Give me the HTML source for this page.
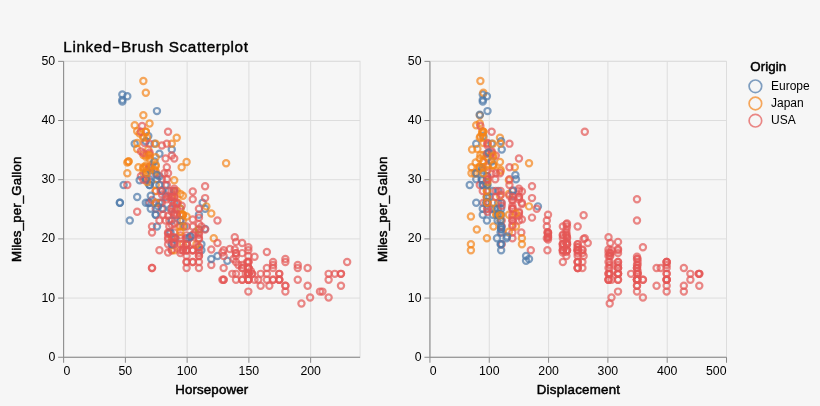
<!DOCTYPE html>
<html lang="en"><head><meta charset="utf-8"><title>Linked-Brush Scatterplot</title>
<style>
html,body{margin:0;padding:0;background:#f6f6f6;}
body{width:820px;height:406px;overflow:hidden;font-family:"Liberation Sans",Arial,Helvetica,sans-serif;}
svg{display:block;}
</style></head><body>
<svg width="820" height="406" viewBox="0 0 820 406" font-family="'Liberation Sans', Arial, Helvetica, sans-serif">
<rect width="820" height="406" fill="#f6f6f6"/>
<defs><filter id="soft" x="0" y="0" width="820" height="406" filterUnits="userSpaceOnUse"><feGaussianBlur stdDeviation="0.35"/></filter></defs>
<g filter="url(#soft)">
<g stroke="#ddd" stroke-width="1" fill="none">
<line x1="63.63" y1="61.35" x2="63.63" y2="357.25"/>
<line x1="125.38" y1="61.35" x2="125.38" y2="357.25"/>
<line x1="187.14" y1="61.35" x2="187.14" y2="357.25"/>
<line x1="248.89" y1="61.35" x2="248.89" y2="357.25"/>
<line x1="310.65" y1="61.35" x2="310.65" y2="357.25"/>
<line x1="63.63" y1="357.25" x2="360.05" y2="357.25"/>
<line x1="63.63" y1="298.07" x2="360.05" y2="298.07"/>
<line x1="63.63" y1="238.89" x2="360.05" y2="238.89"/>
<line x1="63.63" y1="179.71" x2="360.05" y2="179.71"/>
<line x1="63.63" y1="120.53" x2="360.05" y2="120.53"/>
<line x1="63.63" y1="61.35" x2="360.05" y2="61.35"/>
<rect x="63.63" y="61.35" width="296.42" height="295.9"/>
</g>
<g fill="none" stroke-width="2.2" stroke-opacity="0.7">
<circle cx="223.64" cy="250.18" r="3.12" stroke="#e45756"/>
<circle cx="266.87" cy="267.93" r="3.12" stroke="#e45756"/>
<circle cx="248.34" cy="250.18" r="3.12" stroke="#e45756"/>
<circle cx="248.34" cy="262.01" r="3.12" stroke="#e45756"/>
<circle cx="235.99" cy="256.09" r="3.12" stroke="#e45756"/>
<circle cx="307.63" cy="267.93" r="3.12" stroke="#e45756"/>
<circle cx="334.8" cy="273.85" r="3.12" stroke="#e45756"/>
<circle cx="328.62" cy="273.85" r="3.12" stroke="#e45756"/>
<circle cx="340.97" cy="273.85" r="3.12" stroke="#e45756"/>
<circle cx="297.75" cy="267.93" r="3.12" stroke="#e45756"/>
<circle cx="273.04" cy="267.93" r="3.12" stroke="#e45756"/>
<circle cx="260.69" cy="273.85" r="3.12" stroke="#e45756"/>
<circle cx="248.34" cy="267.93" r="3.12" stroke="#e45756"/>
<circle cx="340.97" cy="273.85" r="3.12" stroke="#e45756"/>
<circle cx="180.41" cy="214.67" r="3.12" stroke="#f58518"/>
<circle cx="180.41" cy="226.5" r="3.12" stroke="#e45756"/>
<circle cx="182.88" cy="250.18" r="3.12" stroke="#e45756"/>
<circle cx="168.06" cy="232.42" r="3.12" stroke="#e45756"/>
<circle cx="171.77" cy="196.91" r="3.12" stroke="#f58518"/>
<circle cx="119.89" cy="202.83" r="3.12" stroke="#4c78a8"/>
<circle cx="170.53" cy="208.75" r="3.12" stroke="#4c78a8"/>
<circle cx="174.24" cy="214.67" r="3.12" stroke="#4c78a8"/>
<circle cx="180.41" cy="208.75" r="3.12" stroke="#4c78a8"/>
<circle cx="202.64" cy="202.83" r="3.12" stroke="#4c78a8"/>
<circle cx="174.24" cy="232.42" r="3.12" stroke="#e45756"/>
<circle cx="328.62" cy="297.52" r="3.12" stroke="#e45756"/>
<circle cx="310.1" cy="297.52" r="3.12" stroke="#e45756"/>
<circle cx="322.45" cy="291.6" r="3.12" stroke="#e45756"/>
<circle cx="301.45" cy="303.44" r="3.12" stroke="#e45756"/>
<circle cx="171.77" cy="196.91" r="3.12" stroke="#f58518"/>
<circle cx="174.24" cy="191" r="3.12" stroke="#e45756"/>
<circle cx="180.41" cy="208.75" r="3.12" stroke="#f58518"/>
<circle cx="186.59" cy="244.26" r="3.12" stroke="#e45756"/>
<circle cx="192.76" cy="262.01" r="3.12" stroke="#e45756"/>
<circle cx="186.59" cy="256.09" r="3.12" stroke="#e45756"/>
<circle cx="171.77" cy="244.26" r="3.12" stroke="#e45756"/>
<circle cx="186.59" cy="250.18" r="3.12" stroke="#e45756"/>
<circle cx="266.87" cy="273.85" r="3.12" stroke="#e45756"/>
<circle cx="279.22" cy="273.85" r="3.12" stroke="#e45756"/>
<circle cx="252.05" cy="273.85" r="3.12" stroke="#e45756"/>
<circle cx="248.34" cy="273.85" r="3.12" stroke="#e45756"/>
<circle cx="285.39" cy="285.68" r="3.12" stroke="#e45756"/>
<circle cx="273.04" cy="279.77" r="3.12" stroke="#e45756"/>
<circle cx="279.22" cy="279.77" r="3.12" stroke="#e45756"/>
<circle cx="198.94" cy="250.18" r="3.12" stroke="#e45756"/>
<circle cx="152.01" cy="226.5" r="3.12" stroke="#e45756"/>
<circle cx="186.59" cy="244.26" r="3.12" stroke="#e45756"/>
<circle cx="171.77" cy="250.18" r="3.12" stroke="#e45756"/>
<circle cx="169.3" cy="220.59" r="3.12" stroke="#e45756"/>
<circle cx="174.24" cy="191" r="3.12" stroke="#4c78a8"/>
<circle cx="149.54" cy="179.16" r="3.12" stroke="#4c78a8"/>
<circle cx="156.95" cy="179.16" r="3.12" stroke="#4c78a8"/>
<circle cx="143.36" cy="173.24" r="3.12" stroke="#f58518"/>
<circle cx="148.3" cy="149.57" r="3.12" stroke="#f58518"/>
<circle cx="137.19" cy="196.91" r="3.12" stroke="#4c78a8"/>
<circle cx="149.54" cy="202.83" r="3.12" stroke="#e45756"/>
<circle cx="180.41" cy="214.67" r="3.12" stroke="#f58518"/>
<circle cx="161.89" cy="208.75" r="3.12" stroke="#e45756"/>
<circle cx="129.77" cy="220.59" r="3.12" stroke="#4c78a8"/>
<circle cx="174.24" cy="238.34" r="3.12" stroke="#e45756"/>
<circle cx="169.3" cy="232.42" r="3.12" stroke="#e45756"/>
<circle cx="266.87" cy="279.77" r="3.12" stroke="#e45756"/>
<circle cx="279.22" cy="273.85" r="3.12" stroke="#e45756"/>
<circle cx="248.34" cy="267.93" r="3.12" stroke="#e45756"/>
<circle cx="252.05" cy="273.85" r="3.12" stroke="#e45756"/>
<circle cx="248.34" cy="256.09" r="3.12" stroke="#e45756"/>
<circle cx="319.98" cy="291.6" r="3.12" stroke="#e45756"/>
<circle cx="254.52" cy="279.77" r="3.12" stroke="#e45756"/>
<circle cx="260.69" cy="285.68" r="3.12" stroke="#e45756"/>
<circle cx="297.75" cy="279.77" r="3.12" stroke="#e45756"/>
<circle cx="182.88" cy="244.26" r="3.12" stroke="#f58518"/>
<circle cx="248.34" cy="267.93" r="3.12" stroke="#e45756"/>
<circle cx="223.64" cy="279.77" r="3.12" stroke="#e45756"/>
<circle cx="235.99" cy="279.77" r="3.12" stroke="#e45756"/>
<circle cx="248.34" cy="273.85" r="3.12" stroke="#e45756"/>
<circle cx="201.41" cy="250.18" r="3.12" stroke="#4c78a8"/>
<circle cx="156.95" cy="226.5" r="3.12" stroke="#4c78a8"/>
<circle cx="170.53" cy="232.42" r="3.12" stroke="#4c78a8"/>
<circle cx="148.3" cy="202.83" r="3.12" stroke="#4c78a8"/>
<circle cx="169.3" cy="226.5" r="3.12" stroke="#e45756"/>
<circle cx="176.71" cy="191" r="3.12" stroke="#f58518"/>
<circle cx="182.88" cy="220.59" r="3.12" stroke="#f58518"/>
<circle cx="161.89" cy="191" r="3.12" stroke="#e45756"/>
<circle cx="171.77" cy="196.91" r="3.12" stroke="#f58518"/>
<circle cx="279.22" cy="279.77" r="3.12" stroke="#e45756"/>
<circle cx="248.34" cy="273.85" r="3.12" stroke="#e45756"/>
<circle cx="242.17" cy="279.77" r="3.12" stroke="#e45756"/>
<circle cx="232.29" cy="273.85" r="3.12" stroke="#e45756"/>
<circle cx="248.34" cy="267.93" r="3.12" stroke="#e45756"/>
<circle cx="307.63" cy="285.68" r="3.12" stroke="#e45756"/>
<circle cx="248.34" cy="279.77" r="3.12" stroke="#e45756"/>
<circle cx="258.22" cy="279.77" r="3.12" stroke="#e45756"/>
<circle cx="248.34" cy="273.85" r="3.12" stroke="#e45756"/>
<circle cx="328.62" cy="279.77" r="3.12" stroke="#e45756"/>
<circle cx="340.97" cy="285.68" r="3.12" stroke="#e45756"/>
<circle cx="279.22" cy="279.77" r="3.12" stroke="#e45756"/>
<circle cx="192.76" cy="250.18" r="3.12" stroke="#e45756"/>
<circle cx="186.59" cy="262.01" r="3.12" stroke="#e45756"/>
<circle cx="186.59" cy="250.18" r="3.12" stroke="#e45756"/>
<circle cx="171.77" cy="250.18" r="3.12" stroke="#e45756"/>
<circle cx="180.41" cy="220.59" r="3.12" stroke="#e45756"/>
<circle cx="119.89" cy="202.83" r="3.12" stroke="#4c78a8"/>
<circle cx="248.34" cy="291.6" r="3.12" stroke="#e45756"/>
<circle cx="269.34" cy="285.68" r="3.12" stroke="#e45756"/>
<circle cx="273.04" cy="279.77" r="3.12" stroke="#e45756"/>
<circle cx="285.39" cy="285.68" r="3.12" stroke="#e45756"/>
<circle cx="186.59" cy="250.18" r="3.12" stroke="#e45756"/>
<circle cx="171.77" cy="238.34" r="3.12" stroke="#f58518"/>
<circle cx="152.01" cy="232.42" r="3.12" stroke="#e45756"/>
<circle cx="179.18" cy="226.5" r="3.12" stroke="#f58518"/>
<circle cx="174.24" cy="250.18" r="3.12" stroke="#f58518"/>
<circle cx="168.06" cy="244.26" r="3.12" stroke="#e45756"/>
<circle cx="195.23" cy="232.42" r="3.12" stroke="#e45756"/>
<circle cx="174.24" cy="202.83" r="3.12" stroke="#4c78a8"/>
<circle cx="242.17" cy="267.93" r="3.12" stroke="#e45756"/>
<circle cx="347.15" cy="262.01" r="3.12" stroke="#e45756"/>
<circle cx="123.6" cy="185.08" r="3.12" stroke="#4c78a8"/>
<circle cx="155.71" cy="214.67" r="3.12" stroke="#4c78a8"/>
<circle cx="175.47" cy="238.34" r="3.12" stroke="#4c78a8"/>
<circle cx="201.41" cy="244.26" r="3.12" stroke="#4c78a8"/>
<circle cx="248.34" cy="267.93" r="3.12" stroke="#e45756"/>
<circle cx="198.94" cy="214.67" r="3.12" stroke="#4c78a8"/>
<circle cx="213.76" cy="238.34" r="3.12" stroke="#f58518"/>
<circle cx="285.39" cy="291.6" r="3.12" stroke="#e45756"/>
<circle cx="180.41" cy="238.34" r="3.12" stroke="#e45756"/>
<circle cx="186.59" cy="244.26" r="3.12" stroke="#e45756"/>
<circle cx="186.59" cy="267.93" r="3.12" stroke="#e45756"/>
<circle cx="145.83" cy="173.24" r="3.12" stroke="#f58518"/>
<circle cx="161.89" cy="202.83" r="3.12" stroke="#e45756"/>
<circle cx="143.36" cy="167.32" r="3.12" stroke="#f58518"/>
<circle cx="155.71" cy="208.75" r="3.12" stroke="#e45756"/>
<circle cx="186.59" cy="262.01" r="3.12" stroke="#e45756"/>
<circle cx="198.94" cy="262.01" r="3.12" stroke="#e45756"/>
<circle cx="192.76" cy="250.18" r="3.12" stroke="#e45756"/>
<circle cx="235.99" cy="262.01" r="3.12" stroke="#e45756"/>
<circle cx="248.34" cy="279.77" r="3.12" stroke="#e45756"/>
<circle cx="248.34" cy="273.85" r="3.12" stroke="#e45756"/>
<circle cx="235.99" cy="273.85" r="3.12" stroke="#e45756"/>
<circle cx="248.34" cy="273.85" r="3.12" stroke="#e45756"/>
<circle cx="165.59" cy="185.08" r="3.12" stroke="#4c78a8"/>
<circle cx="145.83" cy="202.83" r="3.12" stroke="#4c78a8"/>
<circle cx="159.42" cy="202.83" r="3.12" stroke="#4c78a8"/>
<circle cx="127.3" cy="173.24" r="3.12" stroke="#f58518"/>
<circle cx="138.42" cy="167.32" r="3.12" stroke="#f58518"/>
<circle cx="155.71" cy="191" r="3.12" stroke="#e45756"/>
<circle cx="155.71" cy="214.67" r="3.12" stroke="#4c78a8"/>
<circle cx="155.71" cy="202.83" r="3.12" stroke="#4c78a8"/>
<circle cx="182.88" cy="214.67" r="3.12" stroke="#f58518"/>
<circle cx="177.94" cy="202.83" r="3.12" stroke="#f58518"/>
<circle cx="145.83" cy="173.24" r="3.12" stroke="#4c78a8"/>
<circle cx="180.41" cy="244.26" r="3.12" stroke="#e45756"/>
<circle cx="192.76" cy="250.18" r="3.12" stroke="#e45756"/>
<circle cx="152.01" cy="267.93" r="3.12" stroke="#e45756"/>
<circle cx="152.01" cy="267.93" r="3.12" stroke="#e45756"/>
<circle cx="273.04" cy="262.01" r="3.12" stroke="#e45756"/>
<circle cx="242.17" cy="267.93" r="3.12" stroke="#e45756"/>
<circle cx="248.34" cy="262.01" r="3.12" stroke="#e45756"/>
<circle cx="245.87" cy="273.85" r="3.12" stroke="#e45756"/>
<circle cx="198.94" cy="256.09" r="3.12" stroke="#e45756"/>
<circle cx="192.76" cy="262.01" r="3.12" stroke="#e45756"/>
<circle cx="198.94" cy="267.93" r="3.12" stroke="#e45756"/>
<circle cx="180.41" cy="250.18" r="3.12" stroke="#e45756"/>
<circle cx="198.94" cy="232.42" r="3.12" stroke="#e45756"/>
<circle cx="198.94" cy="238.34" r="3.12" stroke="#e45756"/>
<circle cx="222.41" cy="279.77" r="3.12" stroke="#e45756"/>
<circle cx="155.71" cy="185.08" r="3.12" stroke="#f58518"/>
<circle cx="165.59" cy="220.59" r="3.12" stroke="#e45756"/>
<circle cx="186.59" cy="238.34" r="3.12" stroke="#e45756"/>
<circle cx="159.42" cy="220.59" r="3.12" stroke="#e45756"/>
<circle cx="181.65" cy="214.67" r="3.12" stroke="#f58518"/>
<circle cx="150.77" cy="208.75" r="3.12" stroke="#4c78a8"/>
<circle cx="182.88" cy="214.67" r="3.12" stroke="#f58518"/>
<circle cx="182.88" cy="250.18" r="3.12" stroke="#e45756"/>
<circle cx="149.54" cy="185.08" r="3.12" stroke="#4c78a8"/>
<circle cx="174.24" cy="244.26" r="3.12" stroke="#e45756"/>
<circle cx="180.41" cy="220.59" r="3.12" stroke="#4c78a8"/>
<circle cx="171.77" cy="220.59" r="3.12" stroke="#4c78a8"/>
<circle cx="184.12" cy="226.5" r="3.12" stroke="#4c78a8"/>
<circle cx="205.11" cy="208.75" r="3.12" stroke="#4c78a8"/>
<circle cx="128.54" cy="161.41" r="3.12" stroke="#f58518"/>
<circle cx="169.3" cy="191" r="3.12" stroke="#4c78a8"/>
<circle cx="163.12" cy="208.75" r="3.12" stroke="#4c78a8"/>
<circle cx="176.71" cy="208.75" r="3.12" stroke="#e45756"/>
<circle cx="160.65" cy="202.83" r="3.12" stroke="#e45756"/>
<circle cx="165.59" cy="196.91" r="3.12" stroke="#4c78a8"/>
<circle cx="235.99" cy="253.13" r="3.12" stroke="#e45756"/>
<circle cx="248.34" cy="262.01" r="3.12" stroke="#e45756"/>
<circle cx="211.29" cy="264.97" r="3.12" stroke="#e45756"/>
<circle cx="250.81" cy="270.89" r="3.12" stroke="#e45756"/>
<circle cx="186.59" cy="226.5" r="3.12" stroke="#e45756"/>
<circle cx="192.76" cy="226.5" r="3.12" stroke="#e45756"/>
<circle cx="163.12" cy="214.67" r="3.12" stroke="#e45756"/>
<circle cx="174.24" cy="223.54" r="3.12" stroke="#e45756"/>
<circle cx="127.3" cy="185.08" r="3.12" stroke="#e45756"/>
<circle cx="137.19" cy="211.71" r="3.12" stroke="#e45756"/>
<circle cx="149.54" cy="185.08" r="3.12" stroke="#4c78a8"/>
<circle cx="128.54" cy="161.41" r="3.12" stroke="#f58518"/>
<circle cx="186.59" cy="238.34" r="3.12" stroke="#e45756"/>
<circle cx="159.42" cy="250.18" r="3.12" stroke="#e45756"/>
<circle cx="198.94" cy="247.22" r="3.12" stroke="#e45756"/>
<circle cx="180.41" cy="253.13" r="3.12" stroke="#e45756"/>
<circle cx="150.77" cy="182.12" r="3.12" stroke="#4c78a8"/>
<circle cx="149.54" cy="167.32" r="3.12" stroke="#f58518"/>
<circle cx="155.71" cy="191" r="3.12" stroke="#f58518"/>
<circle cx="152.01" cy="199.87" r="3.12" stroke="#e45756"/>
<circle cx="189.06" cy="238.34" r="3.12" stroke="#4c78a8"/>
<circle cx="248.34" cy="279.77" r="3.12" stroke="#e45756"/>
<circle cx="171.77" cy="244.26" r="3.12" stroke="#4c78a8"/>
<circle cx="196.47" cy="244.26" r="3.12" stroke="#f58518"/>
<circle cx="211.29" cy="259.05" r="3.12" stroke="#4c78a8"/>
<circle cx="285.39" cy="259.05" r="3.12" stroke="#e45756"/>
<circle cx="242.17" cy="279.77" r="3.12" stroke="#e45756"/>
<circle cx="223.64" cy="279.77" r="3.12" stroke="#e45756"/>
<circle cx="248.34" cy="279.77" r="3.12" stroke="#e45756"/>
<circle cx="147.07" cy="170.28" r="3.12" stroke="#f58518"/>
<circle cx="161.89" cy="179.16" r="3.12" stroke="#e45756"/>
<circle cx="134.71" cy="143.65" r="3.12" stroke="#4c78a8"/>
<circle cx="181.65" cy="205.79" r="3.12" stroke="#e45756"/>
<circle cx="149.54" cy="158.45" r="3.12" stroke="#f58518"/>
<circle cx="242.17" cy="253.13" r="3.12" stroke="#e45756"/>
<circle cx="198.94" cy="256.09" r="3.12" stroke="#e45756"/>
<circle cx="242.17" cy="264.97" r="3.12" stroke="#e45756"/>
<circle cx="223.64" cy="267.93" r="3.12" stroke="#e45756"/>
<circle cx="198.94" cy="253.13" r="3.12" stroke="#e45756"/>
<circle cx="192.76" cy="235.38" r="3.12" stroke="#e45756"/>
<circle cx="186.59" cy="244.26" r="3.12" stroke="#e45756"/>
<circle cx="184.12" cy="247.22" r="3.12" stroke="#e45756"/>
<circle cx="285.39" cy="262.01" r="3.12" stroke="#e45756"/>
<circle cx="273.04" cy="264.97" r="3.12" stroke="#e45756"/>
<circle cx="297.75" cy="264.97" r="3.12" stroke="#e45756"/>
<circle cx="247.11" cy="262.01" r="3.12" stroke="#e45756"/>
<circle cx="159.42" cy="185.08" r="3.12" stroke="#4c78a8"/>
<circle cx="171.77" cy="211.71" r="3.12" stroke="#e45756"/>
<circle cx="155.71" cy="202.83" r="3.12" stroke="#f58518"/>
<circle cx="173" cy="205.79" r="3.12" stroke="#e45756"/>
<circle cx="140.89" cy="176.2" r="3.12" stroke="#e45756"/>
<circle cx="165.59" cy="158.45" r="3.12" stroke="#e45756"/>
<circle cx="145.83" cy="179.16" r="3.12" stroke="#f58518"/>
<circle cx="159.42" cy="176.2" r="3.12" stroke="#4c78a8"/>
<circle cx="182.88" cy="226.5" r="3.12" stroke="#f58518"/>
<circle cx="198.94" cy="229.46" r="3.12" stroke="#4c78a8"/>
<circle cx="198.94" cy="229.46" r="3.12" stroke="#f58518"/>
<circle cx="122.36" cy="101.63" r="3.12" stroke="#4c78a8"/>
<circle cx="144.6" cy="143.06" r="3.12" stroke="#e45756"/>
<circle cx="127.3" cy="162.59" r="3.12" stroke="#f58518"/>
<circle cx="149.54" cy="123.53" r="3.12" stroke="#f58518"/>
<circle cx="137.19" cy="143.06" r="3.12" stroke="#f58518"/>
<circle cx="198.94" cy="238.93" r="3.12" stroke="#e45756"/>
<circle cx="235.99" cy="241.89" r="3.12" stroke="#e45756"/>
<circle cx="234.76" cy="237.16" r="3.12" stroke="#e45756"/>
<circle cx="192.76" cy="243.07" r="3.12" stroke="#e45756"/>
<circle cx="180.41" cy="235.38" r="3.12" stroke="#e45756"/>
<circle cx="168.06" cy="237.16" r="3.12" stroke="#e45756"/>
<circle cx="171.77" cy="208.16" r="3.12" stroke="#e45756"/>
<circle cx="186.59" cy="235.38" r="3.12" stroke="#e45756"/>
<circle cx="174.24" cy="241.89" r="3.12" stroke="#e45756"/>
<circle cx="192.76" cy="234.79" r="3.12" stroke="#e45756"/>
<circle cx="168.06" cy="233.61" r="3.12" stroke="#e45756"/>
<circle cx="198.94" cy="246.63" r="3.12" stroke="#e45756"/>
<circle cx="211.29" cy="249.58" r="3.12" stroke="#e45756"/>
<circle cx="242.17" cy="243.07" r="3.12" stroke="#e45756"/>
<circle cx="266.87" cy="251.95" r="3.12" stroke="#e45756"/>
<circle cx="234.76" cy="249.58" r="3.12" stroke="#e45756"/>
<circle cx="235.99" cy="253.13" r="3.12" stroke="#e45756"/>
<circle cx="147.07" cy="179.16" r="3.12" stroke="#e45756"/>
<circle cx="180.41" cy="193.95" r="3.12" stroke="#f58518"/>
<circle cx="182.88" cy="195.73" r="3.12" stroke="#f58518"/>
<circle cx="155.71" cy="173.83" r="3.12" stroke="#e45756"/>
<circle cx="180.41" cy="231.83" r="3.12" stroke="#f58518"/>
<circle cx="192.76" cy="219.4" r="3.12" stroke="#e45756"/>
<circle cx="168.06" cy="215.85" r="3.12" stroke="#e45756"/>
<circle cx="182.88" cy="215.26" r="3.12" stroke="#f58518"/>
<circle cx="190.29" cy="236.56" r="3.12" stroke="#4c78a8"/>
<circle cx="217.47" cy="256.09" r="3.12" stroke="#4c78a8"/>
<circle cx="205.11" cy="228.87" r="3.12" stroke="#4c78a8"/>
<circle cx="227.35" cy="260.83" r="3.12" stroke="#4c78a8"/>
<circle cx="150.77" cy="170.28" r="3.12" stroke="#4c78a8"/>
<circle cx="147.07" cy="182.12" r="3.12" stroke="#f58518"/>
<circle cx="205.11" cy="229.46" r="3.12" stroke="#e45756"/>
<circle cx="168.06" cy="239.52" r="3.12" stroke="#e45756"/>
<circle cx="171.77" cy="224.73" r="3.12" stroke="#e45756"/>
<circle cx="174.24" cy="237.16" r="3.12" stroke="#e45756"/>
<circle cx="198.94" cy="234.79" r="3.12" stroke="#e45756"/>
<circle cx="223.64" cy="256.09" r="3.12" stroke="#e45756"/>
<circle cx="222.41" cy="252.54" r="3.12" stroke="#e45756"/>
<circle cx="233.52" cy="259.05" r="3.12" stroke="#e45756"/>
<circle cx="229.82" cy="248.99" r="3.12" stroke="#e45756"/>
<circle cx="254.52" cy="256.69" r="3.12" stroke="#e45756"/>
<circle cx="238.46" cy="264.97" r="3.12" stroke="#e45756"/>
<circle cx="217.47" cy="243.07" r="3.12" stroke="#e45756"/>
<circle cx="248.34" cy="247.22" r="3.12" stroke="#e45756"/>
<circle cx="150.77" cy="167.92" r="3.12" stroke="#4c78a8"/>
<circle cx="143.36" cy="154.9" r="3.12" stroke="#f58518"/>
<circle cx="161.89" cy="145.43" r="3.12" stroke="#e45756"/>
<circle cx="161.89" cy="194.55" r="3.12" stroke="#e45756"/>
<circle cx="158.18" cy="206.38" r="3.12" stroke="#4c78a8"/>
<circle cx="217.47" cy="220.59" r="3.12" stroke="#e45756"/>
<circle cx="150.77" cy="195.73" r="3.12" stroke="#4c78a8"/>
<circle cx="174.24" cy="215.26" r="3.12" stroke="#e45756"/>
<circle cx="149.54" cy="154.3" r="3.12" stroke="#e45756"/>
<circle cx="149.54" cy="152.53" r="3.12" stroke="#e45756"/>
<circle cx="143.36" cy="168.51" r="3.12" stroke="#f58518"/>
<circle cx="148.3" cy="135.96" r="3.12" stroke="#4c78a8"/>
<circle cx="174.24" cy="188.63" r="3.12" stroke="#e45756"/>
<circle cx="205.11" cy="186.26" r="3.12" stroke="#e45756"/>
<circle cx="205.11" cy="198.1" r="3.12" stroke="#e45756"/>
<circle cx="174.24" cy="158.45" r="3.12" stroke="#e45756"/>
<circle cx="156.95" cy="111.1" r="3.12" stroke="#4c78a8"/>
<circle cx="137.19" cy="131.22" r="3.12" stroke="#f58518"/>
<circle cx="149.54" cy="166.73" r="3.12" stroke="#e45756"/>
<circle cx="143.36" cy="136.55" r="3.12" stroke="#f58518"/>
<circle cx="174.24" cy="191" r="3.12" stroke="#e45756"/>
<circle cx="171.77" cy="200.46" r="3.12" stroke="#e45756"/>
<circle cx="174.24" cy="212.89" r="3.12" stroke="#e45756"/>
<circle cx="174.24" cy="243.67" r="3.12" stroke="#e45756"/>
<circle cx="159.42" cy="153.71" r="3.12" stroke="#4c78a8"/>
<circle cx="174.24" cy="180.34" r="3.12" stroke="#f58518"/>
<circle cx="155.71" cy="171.47" r="3.12" stroke="#f58518"/>
<circle cx="176.71" cy="137.73" r="3.12" stroke="#f58518"/>
<circle cx="155.71" cy="166.14" r="3.12" stroke="#f58518"/>
<circle cx="143.36" cy="80.92" r="3.12" stroke="#f58518"/>
<circle cx="192.76" cy="191.59" r="3.12" stroke="#e45756"/>
<circle cx="143.36" cy="115.25" r="3.12" stroke="#f58518"/>
<circle cx="122.36" cy="94.53" r="3.12" stroke="#4c78a8"/>
<circle cx="122.36" cy="99.86" r="3.12" stroke="#4c78a8"/>
<circle cx="145.83" cy="141.28" r="3.12" stroke="#4c78a8"/>
<circle cx="145.83" cy="179.16" r="3.12" stroke="#4c78a8"/>
<circle cx="145.83" cy="92.76" r="3.12" stroke="#f58518"/>
<circle cx="145.83" cy="156.67" r="3.12" stroke="#f58518"/>
<circle cx="139.66" cy="180.34" r="3.12" stroke="#4c78a8"/>
<circle cx="226.11" cy="163.18" r="3.12" stroke="#f58518"/>
<circle cx="186.59" cy="216.44" r="3.12" stroke="#f58518"/>
<circle cx="171.77" cy="149.57" r="3.12" stroke="#4c78a8"/>
<circle cx="152.01" cy="164.96" r="3.12" stroke="#f58518"/>
<circle cx="166.83" cy="195.73" r="3.12" stroke="#e45756"/>
<circle cx="166.83" cy="199.28" r="3.12" stroke="#e45756"/>
<circle cx="176.71" cy="204.02" r="3.12" stroke="#e45756"/>
<circle cx="198.94" cy="217.63" r="3.12" stroke="#e45756"/>
<circle cx="166.83" cy="179.16" r="3.12" stroke="#e45756"/>
<circle cx="134.71" cy="125.31" r="3.12" stroke="#f58518"/>
<circle cx="142.13" cy="125.9" r="3.12" stroke="#e45756"/>
<circle cx="137.19" cy="148.98" r="3.12" stroke="#f58518"/>
<circle cx="145.83" cy="165.55" r="3.12" stroke="#f58518"/>
<circle cx="143.36" cy="137.73" r="3.12" stroke="#f58518"/>
<circle cx="139.66" cy="133.59" r="3.12" stroke="#f58518"/>
<circle cx="147.07" cy="154.9" r="3.12" stroke="#f58518"/>
<circle cx="140.89" cy="151.35" r="3.12" stroke="#e45756"/>
<circle cx="143.36" cy="153.12" r="3.12" stroke="#e45756"/>
<circle cx="143.36" cy="179.75" r="3.12" stroke="#e45756"/>
<circle cx="154.48" cy="161.41" r="3.12" stroke="#4c78a8"/>
<circle cx="155.71" cy="157.26" r="3.12" stroke="#f58518"/>
<circle cx="155.71" cy="164.96" r="3.12" stroke="#f58518"/>
<circle cx="186.59" cy="162" r="3.12" stroke="#f58518"/>
<circle cx="154.48" cy="169.69" r="3.12" stroke="#f58518"/>
<circle cx="161.89" cy="190.4" r="3.12" stroke="#4c78a8"/>
<circle cx="156.95" cy="175.02" r="3.12" stroke="#4c78a8"/>
<circle cx="206.35" cy="206.38" r="3.12" stroke="#f58518"/>
<circle cx="211.29" cy="213.48" r="3.12" stroke="#f58518"/>
<circle cx="198.94" cy="224.14" r="3.12" stroke="#e45756"/>
<circle cx="192.76" cy="199.28" r="3.12" stroke="#e45756"/>
<circle cx="171.77" cy="237.16" r="3.12" stroke="#e45756"/>
<circle cx="168.06" cy="252.54" r="3.12" stroke="#e45756"/>
<circle cx="171.77" cy="191" r="3.12" stroke="#e45756"/>
<circle cx="171.77" cy="196.91" r="3.12" stroke="#e45756"/>
<circle cx="171.77" cy="155.49" r="3.12" stroke="#e45756"/>
<circle cx="168.06" cy="173.24" r="3.12" stroke="#e45756"/>
<circle cx="166.83" cy="185.08" r="3.12" stroke="#e45756"/>
<circle cx="174.24" cy="196.91" r="3.12" stroke="#e45756"/>
<circle cx="176.71" cy="214.67" r="3.12" stroke="#e45756"/>
<circle cx="154.48" cy="143.65" r="3.12" stroke="#4c78a8"/>
<circle cx="147.07" cy="137.73" r="3.12" stroke="#f58518"/>
<circle cx="147.07" cy="173.24" r="3.12" stroke="#f58518"/>
<circle cx="140.89" cy="131.82" r="3.12" stroke="#e45756"/>
<circle cx="149.54" cy="143.65" r="3.12" stroke="#e45756"/>
<circle cx="171.77" cy="143.65" r="3.12" stroke="#f58518"/>
<circle cx="155.71" cy="143.65" r="3.12" stroke="#f58518"/>
<circle cx="149.54" cy="155.49" r="3.12" stroke="#f58518"/>
<circle cx="145.83" cy="131.82" r="3.12" stroke="#f58518"/>
<circle cx="145.83" cy="167.32" r="3.12" stroke="#f58518"/>
<circle cx="145.83" cy="131.82" r="3.12" stroke="#f58518"/>
<circle cx="198.94" cy="208.75" r="3.12" stroke="#e45756"/>
<circle cx="168.06" cy="131.82" r="3.12" stroke="#e45756"/>
<circle cx="176.71" cy="202.83" r="3.12" stroke="#e45756"/>
<circle cx="201.41" cy="226.5" r="3.12" stroke="#e45756"/>
<circle cx="181.65" cy="167.32" r="3.12" stroke="#f58518"/>
<circle cx="166.83" cy="143.65" r="3.12" stroke="#e45756"/>
<circle cx="174.24" cy="196.91" r="3.12" stroke="#e45756"/>
<circle cx="169.3" cy="196.91" r="3.12" stroke="#e45756"/>
<circle cx="127.3" cy="96.31" r="3.12" stroke="#4c78a8"/>
<circle cx="166.83" cy="167.32" r="3.12" stroke="#e45756"/>
<circle cx="160.65" cy="191" r="3.12" stroke="#e45756"/>
<circle cx="164.36" cy="173.24" r="3.12" stroke="#e45756"/>
</g>
<g stroke="#888" stroke-width="1" fill="none">
<line x1="63.63" y1="357.25" x2="360.05" y2="357.25"/>
<line x1="63.63" y1="61.35" x2="63.63" y2="357.25"/>
<line x1="63.63" y1="357.25" x2="63.63" y2="362.75"/>
<line x1="125.38" y1="357.25" x2="125.38" y2="362.75"/>
<line x1="187.14" y1="357.25" x2="187.14" y2="362.75"/>
<line x1="248.89" y1="357.25" x2="248.89" y2="362.75"/>
<line x1="310.65" y1="357.25" x2="310.65" y2="362.75"/>
<line x1="58.13" y1="357.25" x2="63.63" y2="357.25"/>
<line x1="58.13" y1="298.07" x2="63.63" y2="298.07"/>
<line x1="58.13" y1="238.89" x2="63.63" y2="238.89"/>
<line x1="58.13" y1="179.71" x2="63.63" y2="179.71"/>
<line x1="58.13" y1="120.53" x2="63.63" y2="120.53"/>
<line x1="58.13" y1="61.35" x2="63.63" y2="61.35"/>
</g>
<g fill="#000" font-size="12.3">
<text x="63.53" y="375.25" text-anchor="start">0</text>
<text x="125.38" y="375.25" text-anchor="middle">50</text>
<text x="187.14" y="375.25" text-anchor="middle">100</text>
<text x="248.89" y="375.25" text-anchor="middle">150</text>
<text x="310.65" y="375.25" text-anchor="middle">200</text>
<text x="55.23" y="360.75" text-anchor="end">0</text>
<text x="55.23" y="301.57" text-anchor="end">10</text>
<text x="55.23" y="242.39" text-anchor="end">20</text>
<text x="55.23" y="183.21" text-anchor="end">30</text>
<text x="55.23" y="124.03" text-anchor="end">40</text>
<text x="55.23" y="64.85" text-anchor="end">50</text>
</g>
<text x="175.15" y="393.6" font-size="13.3" fill="#000" stroke="#000" stroke-width="0.5" letter-spacing="0.15">Horsepower</text>
<text transform="translate(21.3,262.3) rotate(-90)" x="0.25" y="0" font-size="13.3" fill="#000" stroke="#000" stroke-width="0.5" letter-spacing="0.13">Miles_per_Gallon</text>
<g stroke="#ddd" stroke-width="1" fill="none">
<line x1="429.93" y1="61.35" x2="429.93" y2="357.25"/>
<line x1="489.25" y1="61.35" x2="489.25" y2="357.25"/>
<line x1="548.57" y1="61.35" x2="548.57" y2="357.25"/>
<line x1="607.88" y1="61.35" x2="607.88" y2="357.25"/>
<line x1="667.2" y1="61.35" x2="667.2" y2="357.25"/>
<line x1="726.52" y1="61.35" x2="726.52" y2="357.25"/>
<line x1="429.93" y1="357.25" x2="726.52" y2="357.25"/>
<line x1="429.93" y1="298.07" x2="726.52" y2="298.07"/>
<line x1="429.93" y1="238.89" x2="726.52" y2="238.89"/>
<line x1="429.93" y1="179.71" x2="726.52" y2="179.71"/>
<line x1="429.93" y1="120.53" x2="726.52" y2="120.53"/>
<line x1="429.93" y1="61.35" x2="726.52" y2="61.35"/>
<rect x="429.93" y="61.35" width="296.59" height="295.9"/>
</g>
<g fill="none" stroke-width="2.2" stroke-opacity="0.7">
<circle cx="611.49" cy="250.18" r="3.12" stroke="#e45756"/>
<circle cx="636.99" cy="267.93" r="3.12" stroke="#e45756"/>
<circle cx="618.01" cy="250.18" r="3.12" stroke="#e45756"/>
<circle cx="609.71" cy="262.01" r="3.12" stroke="#e45756"/>
<circle cx="608.52" cy="256.09" r="3.12" stroke="#e45756"/>
<circle cx="683.85" cy="267.93" r="3.12" stroke="#e45756"/>
<circle cx="698.68" cy="273.85" r="3.12" stroke="#e45756"/>
<circle cx="690.38" cy="273.85" r="3.12" stroke="#e45756"/>
<circle cx="699.28" cy="273.85" r="3.12" stroke="#e45756"/>
<circle cx="660.72" cy="267.93" r="3.12" stroke="#e45756"/>
<circle cx="656.57" cy="267.93" r="3.12" stroke="#e45756"/>
<circle cx="631.06" cy="273.85" r="3.12" stroke="#e45756"/>
<circle cx="666.65" cy="267.93" r="3.12" stroke="#e45756"/>
<circle cx="699.28" cy="273.85" r="3.12" stroke="#e45756"/>
<circle cx="496.41" cy="214.67" r="3.12" stroke="#f58518"/>
<circle cx="546.83" cy="226.5" r="3.12" stroke="#e45756"/>
<circle cx="547.42" cy="250.18" r="3.12" stroke="#e45756"/>
<circle cx="548.02" cy="232.42" r="3.12" stroke="#e45756"/>
<circle cx="486.92" cy="196.91" r="3.12" stroke="#f58518"/>
<circle cx="486.92" cy="202.83" r="3.12" stroke="#4c78a8"/>
<circle cx="494.63" cy="208.75" r="3.12" stroke="#4c78a8"/>
<circle cx="492.85" cy="214.67" r="3.12" stroke="#4c78a8"/>
<circle cx="491.07" cy="208.75" r="3.12" stroke="#4c78a8"/>
<circle cx="501.15" cy="202.83" r="3.12" stroke="#4c78a8"/>
<circle cx="547.42" cy="232.42" r="3.12" stroke="#e45756"/>
<circle cx="642.92" cy="297.52" r="3.12" stroke="#e45756"/>
<circle cx="611.49" cy="297.52" r="3.12" stroke="#e45756"/>
<circle cx="618.01" cy="291.6" r="3.12" stroke="#e45756"/>
<circle cx="609.71" cy="303.44" r="3.12" stroke="#e45756"/>
<circle cx="486.92" cy="196.91" r="3.12" stroke="#f58518"/>
<circle cx="512.43" cy="191" r="3.12" stroke="#e45756"/>
<circle cx="496.41" cy="208.75" r="3.12" stroke="#f58518"/>
<circle cx="487.51" cy="208.75" r="3.12" stroke="#e45756"/>
<circle cx="567" cy="244.26" r="3.12" stroke="#e45756"/>
<circle cx="562.85" cy="262.01" r="3.12" stroke="#e45756"/>
<circle cx="577.68" cy="256.09" r="3.12" stroke="#e45756"/>
<circle cx="577.68" cy="244.26" r="3.12" stroke="#e45756"/>
<circle cx="567" cy="250.18" r="3.12" stroke="#e45756"/>
<circle cx="636.99" cy="273.85" r="3.12" stroke="#e45756"/>
<circle cx="666.65" cy="273.85" r="3.12" stroke="#e45756"/>
<circle cx="637.59" cy="273.85" r="3.12" stroke="#e45756"/>
<circle cx="618.01" cy="273.85" r="3.12" stroke="#e45756"/>
<circle cx="656.57" cy="285.68" r="3.12" stroke="#e45756"/>
<circle cx="666.65" cy="279.77" r="3.12" stroke="#e45756"/>
<circle cx="666.65" cy="279.77" r="3.12" stroke="#e45756"/>
<circle cx="582.42" cy="250.18" r="3.12" stroke="#e45756"/>
<circle cx="512.43" cy="226.5" r="3.12" stroke="#e45756"/>
<circle cx="577.68" cy="244.26" r="3.12" stroke="#e45756"/>
<circle cx="577.68" cy="250.18" r="3.12" stroke="#e45756"/>
<circle cx="501.75" cy="220.59" r="3.12" stroke="#e45756"/>
<circle cx="498.19" cy="191" r="3.12" stroke="#4c78a8"/>
<circle cx="476.24" cy="179.16" r="3.12" stroke="#4c78a8"/>
<circle cx="481.58" cy="179.16" r="3.12" stroke="#4c78a8"/>
<circle cx="471.5" cy="173.24" r="3.12" stroke="#f58518"/>
<circle cx="472.09" cy="149.57" r="3.12" stroke="#f58518"/>
<circle cx="486.92" cy="196.91" r="3.12" stroke="#4c78a8"/>
<circle cx="483.36" cy="202.83" r="3.12" stroke="#e45756"/>
<circle cx="496.41" cy="214.67" r="3.12" stroke="#f58518"/>
<circle cx="487.22" cy="208.75" r="3.12" stroke="#e45756"/>
<circle cx="486.92" cy="220.59" r="3.12" stroke="#4c78a8"/>
<circle cx="512.43" cy="238.34" r="3.12" stroke="#e45756"/>
<circle cx="501.75" cy="232.42" r="3.12" stroke="#e45756"/>
<circle cx="636.99" cy="279.77" r="3.12" stroke="#e45756"/>
<circle cx="666.65" cy="273.85" r="3.12" stroke="#e45756"/>
<circle cx="618.01" cy="267.93" r="3.12" stroke="#e45756"/>
<circle cx="637.59" cy="273.85" r="3.12" stroke="#e45756"/>
<circle cx="609.71" cy="256.09" r="3.12" stroke="#e45756"/>
<circle cx="683.85" cy="291.6" r="3.12" stroke="#e45756"/>
<circle cx="636.99" cy="279.77" r="3.12" stroke="#e45756"/>
<circle cx="636.99" cy="285.68" r="3.12" stroke="#e45756"/>
<circle cx="666.65" cy="279.77" r="3.12" stroke="#e45756"/>
<circle cx="470.9" cy="244.26" r="3.12" stroke="#f58518"/>
<circle cx="609.71" cy="267.93" r="3.12" stroke="#e45756"/>
<circle cx="611.49" cy="279.77" r="3.12" stroke="#e45756"/>
<circle cx="608.52" cy="279.77" r="3.12" stroke="#e45756"/>
<circle cx="618.01" cy="273.85" r="3.12" stroke="#e45756"/>
<circle cx="501.15" cy="250.18" r="3.12" stroke="#4c78a8"/>
<circle cx="501.15" cy="226.5" r="3.12" stroke="#4c78a8"/>
<circle cx="500.56" cy="232.42" r="3.12" stroke="#4c78a8"/>
<circle cx="486.33" cy="202.83" r="3.12" stroke="#4c78a8"/>
<circle cx="501.75" cy="226.5" r="3.12" stroke="#e45756"/>
<circle cx="486.92" cy="191" r="3.12" stroke="#f58518"/>
<circle cx="500.56" cy="220.59" r="3.12" stroke="#f58518"/>
<circle cx="487.51" cy="191" r="3.12" stroke="#e45756"/>
<circle cx="486.92" cy="196.91" r="3.12" stroke="#f58518"/>
<circle cx="636.99" cy="279.77" r="3.12" stroke="#e45756"/>
<circle cx="609.71" cy="273.85" r="3.12" stroke="#e45756"/>
<circle cx="636.99" cy="279.77" r="3.12" stroke="#e45756"/>
<circle cx="608.52" cy="273.85" r="3.12" stroke="#e45756"/>
<circle cx="618.01" cy="267.93" r="3.12" stroke="#e45756"/>
<circle cx="683.85" cy="285.68" r="3.12" stroke="#e45756"/>
<circle cx="666.65" cy="279.77" r="3.12" stroke="#e45756"/>
<circle cx="637.59" cy="279.77" r="3.12" stroke="#e45756"/>
<circle cx="618.01" cy="273.85" r="3.12" stroke="#e45756"/>
<circle cx="690.38" cy="279.77" r="3.12" stroke="#e45756"/>
<circle cx="699.28" cy="285.68" r="3.12" stroke="#e45756"/>
<circle cx="642.92" cy="279.77" r="3.12" stroke="#e45756"/>
<circle cx="562.85" cy="250.18" r="3.12" stroke="#e45756"/>
<circle cx="577.68" cy="262.01" r="3.12" stroke="#e45756"/>
<circle cx="567" cy="250.18" r="3.12" stroke="#e45756"/>
<circle cx="577.68" cy="250.18" r="3.12" stroke="#e45756"/>
<circle cx="546.83" cy="220.59" r="3.12" stroke="#e45756"/>
<circle cx="486.92" cy="202.83" r="3.12" stroke="#4c78a8"/>
<circle cx="666.65" cy="291.6" r="3.12" stroke="#e45756"/>
<circle cx="666.65" cy="285.68" r="3.12" stroke="#e45756"/>
<circle cx="642.92" cy="279.77" r="3.12" stroke="#e45756"/>
<circle cx="636.99" cy="285.68" r="3.12" stroke="#e45756"/>
<circle cx="567" cy="250.18" r="3.12" stroke="#e45756"/>
<circle cx="486.92" cy="238.34" r="3.12" stroke="#f58518"/>
<circle cx="512.43" cy="232.42" r="3.12" stroke="#e45756"/>
<circle cx="493.44" cy="226.5" r="3.12" stroke="#f58518"/>
<circle cx="470.9" cy="250.18" r="3.12" stroke="#f58518"/>
<circle cx="501.75" cy="244.26" r="3.12" stroke="#e45756"/>
<circle cx="521.32" cy="232.42" r="3.12" stroke="#e45756"/>
<circle cx="487.51" cy="202.83" r="3.12" stroke="#4c78a8"/>
<circle cx="636.99" cy="267.93" r="3.12" stroke="#e45756"/>
<circle cx="666.65" cy="262.01" r="3.12" stroke="#e45756"/>
<circle cx="469.72" cy="185.08" r="3.12" stroke="#4c78a8"/>
<circle cx="498.19" cy="214.67" r="3.12" stroke="#4c78a8"/>
<circle cx="497" cy="238.34" r="3.12" stroke="#4c78a8"/>
<circle cx="501.15" cy="244.26" r="3.12" stroke="#4c78a8"/>
<circle cx="618.01" cy="267.93" r="3.12" stroke="#e45756"/>
<circle cx="501.15" cy="214.67" r="3.12" stroke="#4c78a8"/>
<circle cx="521.92" cy="238.34" r="3.12" stroke="#f58518"/>
<circle cx="636.99" cy="291.6" r="3.12" stroke="#e45756"/>
<circle cx="546.83" cy="238.34" r="3.12" stroke="#e45756"/>
<circle cx="548.02" cy="232.42" r="3.12" stroke="#e45756"/>
<circle cx="567" cy="244.26" r="3.12" stroke="#e45756"/>
<circle cx="577.68" cy="267.93" r="3.12" stroke="#e45756"/>
<circle cx="476.24" cy="173.24" r="3.12" stroke="#f58518"/>
<circle cx="501.75" cy="202.83" r="3.12" stroke="#e45756"/>
<circle cx="471.5" cy="167.32" r="3.12" stroke="#f58518"/>
<circle cx="512.43" cy="208.75" r="3.12" stroke="#e45756"/>
<circle cx="577.68" cy="262.01" r="3.12" stroke="#e45756"/>
<circle cx="582.42" cy="262.01" r="3.12" stroke="#e45756"/>
<circle cx="562.85" cy="250.18" r="3.12" stroke="#e45756"/>
<circle cx="608.52" cy="262.01" r="3.12" stroke="#e45756"/>
<circle cx="636.99" cy="279.77" r="3.12" stroke="#e45756"/>
<circle cx="618.01" cy="273.85" r="3.12" stroke="#e45756"/>
<circle cx="608.52" cy="273.85" r="3.12" stroke="#e45756"/>
<circle cx="609.71" cy="273.85" r="3.12" stroke="#e45756"/>
<circle cx="487.51" cy="185.08" r="3.12" stroke="#4c78a8"/>
<circle cx="476.24" cy="202.83" r="3.12" stroke="#4c78a8"/>
<circle cx="486.92" cy="202.83" r="3.12" stroke="#4c78a8"/>
<circle cx="474.46" cy="173.24" r="3.12" stroke="#f58518"/>
<circle cx="478.61" cy="167.32" r="3.12" stroke="#f58518"/>
<circle cx="482.77" cy="191" r="3.12" stroke="#e45756"/>
<circle cx="482.77" cy="214.67" r="3.12" stroke="#4c78a8"/>
<circle cx="498.19" cy="202.83" r="3.12" stroke="#4c78a8"/>
<circle cx="500.56" cy="214.67" r="3.12" stroke="#f58518"/>
<circle cx="493.44" cy="202.83" r="3.12" stroke="#f58518"/>
<circle cx="476.24" cy="173.24" r="3.12" stroke="#4c78a8"/>
<circle cx="562.85" cy="244.26" r="3.12" stroke="#e45756"/>
<circle cx="577.68" cy="250.18" r="3.12" stroke="#e45756"/>
<circle cx="577.68" cy="267.93" r="3.12" stroke="#e45756"/>
<circle cx="577.68" cy="267.93" r="3.12" stroke="#e45756"/>
<circle cx="666.65" cy="262.01" r="3.12" stroke="#e45756"/>
<circle cx="636.99" cy="267.93" r="3.12" stroke="#e45756"/>
<circle cx="618.01" cy="262.01" r="3.12" stroke="#e45756"/>
<circle cx="637.59" cy="273.85" r="3.12" stroke="#e45756"/>
<circle cx="566.4" cy="256.09" r="3.12" stroke="#e45756"/>
<circle cx="577.68" cy="262.01" r="3.12" stroke="#e45756"/>
<circle cx="582.42" cy="267.93" r="3.12" stroke="#e45756"/>
<circle cx="562.85" cy="250.18" r="3.12" stroke="#e45756"/>
<circle cx="566.4" cy="232.42" r="3.12" stroke="#e45756"/>
<circle cx="584.79" cy="238.34" r="3.12" stroke="#e45756"/>
<circle cx="608.52" cy="279.77" r="3.12" stroke="#e45756"/>
<circle cx="486.92" cy="185.08" r="3.12" stroke="#f58518"/>
<circle cx="512.43" cy="220.59" r="3.12" stroke="#e45756"/>
<circle cx="567" cy="238.34" r="3.12" stroke="#e45756"/>
<circle cx="512.43" cy="220.59" r="3.12" stroke="#e45756"/>
<circle cx="508.87" cy="214.67" r="3.12" stroke="#f58518"/>
<circle cx="482.77" cy="208.75" r="3.12" stroke="#4c78a8"/>
<circle cx="499.97" cy="214.67" r="3.12" stroke="#f58518"/>
<circle cx="530.81" cy="250.18" r="3.12" stroke="#e45756"/>
<circle cx="482.77" cy="185.08" r="3.12" stroke="#4c78a8"/>
<circle cx="567" cy="244.26" r="3.12" stroke="#e45756"/>
<circle cx="497.6" cy="220.59" r="3.12" stroke="#4c78a8"/>
<circle cx="500.56" cy="220.59" r="3.12" stroke="#4c78a8"/>
<circle cx="501.15" cy="226.5" r="3.12" stroke="#4c78a8"/>
<circle cx="501.15" cy="208.75" r="3.12" stroke="#4c78a8"/>
<circle cx="483.36" cy="161.41" r="3.12" stroke="#f58518"/>
<circle cx="492.85" cy="191" r="3.12" stroke="#4c78a8"/>
<circle cx="498.19" cy="208.75" r="3.12" stroke="#4c78a8"/>
<circle cx="512.43" cy="208.75" r="3.12" stroke="#e45756"/>
<circle cx="487.51" cy="202.83" r="3.12" stroke="#e45756"/>
<circle cx="489.29" cy="196.91" r="3.12" stroke="#4c78a8"/>
<circle cx="610.3" cy="253.13" r="3.12" stroke="#e45756"/>
<circle cx="618.01" cy="262.01" r="3.12" stroke="#e45756"/>
<circle cx="609.71" cy="264.97" r="3.12" stroke="#e45756"/>
<circle cx="637.59" cy="270.89" r="3.12" stroke="#e45756"/>
<circle cx="562.85" cy="226.5" r="3.12" stroke="#e45756"/>
<circle cx="577.68" cy="226.5" r="3.12" stroke="#e45756"/>
<circle cx="548.02" cy="214.67" r="3.12" stroke="#e45756"/>
<circle cx="567" cy="223.54" r="3.12" stroke="#e45756"/>
<circle cx="479.8" cy="185.08" r="3.12" stroke="#e45756"/>
<circle cx="487.51" cy="211.71" r="3.12" stroke="#e45756"/>
<circle cx="482.77" cy="185.08" r="3.12" stroke="#4c78a8"/>
<circle cx="483.36" cy="161.41" r="3.12" stroke="#f58518"/>
<circle cx="562.85" cy="238.34" r="3.12" stroke="#e45756"/>
<circle cx="577.68" cy="250.18" r="3.12" stroke="#e45756"/>
<circle cx="577.68" cy="247.22" r="3.12" stroke="#e45756"/>
<circle cx="582.42" cy="253.13" r="3.12" stroke="#e45756"/>
<circle cx="486.92" cy="182.12" r="3.12" stroke="#4c78a8"/>
<circle cx="479.8" cy="167.32" r="3.12" stroke="#f58518"/>
<circle cx="486.92" cy="191" r="3.12" stroke="#f58518"/>
<circle cx="512.43" cy="199.87" r="3.12" stroke="#e45756"/>
<circle cx="506.49" cy="238.34" r="3.12" stroke="#4c78a8"/>
<circle cx="618.01" cy="279.77" r="3.12" stroke="#e45756"/>
<circle cx="500.56" cy="244.26" r="3.12" stroke="#4c78a8"/>
<circle cx="521.92" cy="244.26" r="3.12" stroke="#f58518"/>
<circle cx="529.03" cy="259.05" r="3.12" stroke="#4c78a8"/>
<circle cx="636.99" cy="259.05" r="3.12" stroke="#e45756"/>
<circle cx="636.99" cy="279.77" r="3.12" stroke="#e45756"/>
<circle cx="608.52" cy="279.77" r="3.12" stroke="#e45756"/>
<circle cx="618.01" cy="279.77" r="3.12" stroke="#e45756"/>
<circle cx="487.51" cy="170.28" r="3.12" stroke="#f58518"/>
<circle cx="495.22" cy="179.16" r="3.12" stroke="#e45756"/>
<circle cx="476.24" cy="143.65" r="3.12" stroke="#4c78a8"/>
<circle cx="501.75" cy="205.79" r="3.12" stroke="#e45756"/>
<circle cx="479.8" cy="158.45" r="3.12" stroke="#f58518"/>
<circle cx="610.3" cy="253.13" r="3.12" stroke="#e45756"/>
<circle cx="583.61" cy="256.09" r="3.12" stroke="#e45756"/>
<circle cx="618.01" cy="264.97" r="3.12" stroke="#e45756"/>
<circle cx="608.52" cy="267.93" r="3.12" stroke="#e45756"/>
<circle cx="577.68" cy="253.13" r="3.12" stroke="#e45756"/>
<circle cx="566.4" cy="235.38" r="3.12" stroke="#e45756"/>
<circle cx="562.85" cy="244.26" r="3.12" stroke="#e45756"/>
<circle cx="577.68" cy="247.22" r="3.12" stroke="#e45756"/>
<circle cx="666.65" cy="262.01" r="3.12" stroke="#e45756"/>
<circle cx="636.99" cy="264.97" r="3.12" stroke="#e45756"/>
<circle cx="666.65" cy="264.97" r="3.12" stroke="#e45756"/>
<circle cx="637.59" cy="262.01" r="3.12" stroke="#e45756"/>
<circle cx="486.92" cy="185.08" r="3.12" stroke="#4c78a8"/>
<circle cx="518.95" cy="211.71" r="3.12" stroke="#e45756"/>
<circle cx="486.92" cy="202.83" r="3.12" stroke="#f58518"/>
<circle cx="512.43" cy="205.79" r="3.12" stroke="#e45756"/>
<circle cx="487.51" cy="176.2" r="3.12" stroke="#e45756"/>
<circle cx="487.51" cy="158.45" r="3.12" stroke="#e45756"/>
<circle cx="486.92" cy="179.16" r="3.12" stroke="#f58518"/>
<circle cx="486.92" cy="176.2" r="3.12" stroke="#4c78a8"/>
<circle cx="515.98" cy="226.5" r="3.12" stroke="#f58518"/>
<circle cx="501.15" cy="229.46" r="3.12" stroke="#4c78a8"/>
<circle cx="476.83" cy="229.46" r="3.12" stroke="#f58518"/>
<circle cx="482.77" cy="101.63" r="3.12" stroke="#4c78a8"/>
<circle cx="487.51" cy="143.06" r="3.12" stroke="#e45756"/>
<circle cx="475.65" cy="162.59" r="3.12" stroke="#f58518"/>
<circle cx="479.8" cy="123.53" r="3.12" stroke="#f58518"/>
<circle cx="483.36" cy="143.06" r="3.12" stroke="#f58518"/>
<circle cx="583.61" cy="238.93" r="3.12" stroke="#e45756"/>
<circle cx="618.01" cy="241.89" r="3.12" stroke="#e45756"/>
<circle cx="608.52" cy="237.16" r="3.12" stroke="#e45756"/>
<circle cx="566.4" cy="243.07" r="3.12" stroke="#e45756"/>
<circle cx="548.02" cy="235.38" r="3.12" stroke="#e45756"/>
<circle cx="548.02" cy="237.16" r="3.12" stroke="#e45756"/>
<circle cx="512.43" cy="208.16" r="3.12" stroke="#e45756"/>
<circle cx="562.85" cy="235.38" r="3.12" stroke="#e45756"/>
<circle cx="567" cy="241.89" r="3.12" stroke="#e45756"/>
<circle cx="566.4" cy="234.79" r="3.12" stroke="#e45756"/>
<circle cx="548.02" cy="233.61" r="3.12" stroke="#e45756"/>
<circle cx="562.85" cy="246.63" r="3.12" stroke="#e45756"/>
<circle cx="582.42" cy="249.58" r="3.12" stroke="#e45756"/>
<circle cx="610.3" cy="243.07" r="3.12" stroke="#e45756"/>
<circle cx="566.4" cy="251.95" r="3.12" stroke="#e45756"/>
<circle cx="608.52" cy="249.58" r="3.12" stroke="#e45756"/>
<circle cx="618.01" cy="253.13" r="3.12" stroke="#e45756"/>
<circle cx="487.51" cy="179.16" r="3.12" stroke="#e45756"/>
<circle cx="508.87" cy="193.95" r="3.12" stroke="#f58518"/>
<circle cx="499.97" cy="195.73" r="3.12" stroke="#f58518"/>
<circle cx="491.66" cy="173.83" r="3.12" stroke="#e45756"/>
<circle cx="508.87" cy="231.83" r="3.12" stroke="#f58518"/>
<circle cx="521.92" cy="219.4" r="3.12" stroke="#e45756"/>
<circle cx="518.95" cy="215.85" r="3.12" stroke="#e45756"/>
<circle cx="499.97" cy="215.26" r="3.12" stroke="#f58518"/>
<circle cx="507.09" cy="236.56" r="3.12" stroke="#4c78a8"/>
<circle cx="526.07" cy="256.09" r="3.12" stroke="#4c78a8"/>
<circle cx="501.15" cy="228.87" r="3.12" stroke="#4c78a8"/>
<circle cx="526.07" cy="260.83" r="3.12" stroke="#4c78a8"/>
<circle cx="482.17" cy="170.28" r="3.12" stroke="#4c78a8"/>
<circle cx="487.51" cy="182.12" r="3.12" stroke="#f58518"/>
<circle cx="566.4" cy="229.46" r="3.12" stroke="#e45756"/>
<circle cx="548.02" cy="239.52" r="3.12" stroke="#e45756"/>
<circle cx="512.43" cy="224.73" r="3.12" stroke="#e45756"/>
<circle cx="567" cy="237.16" r="3.12" stroke="#e45756"/>
<circle cx="562.85" cy="234.79" r="3.12" stroke="#e45756"/>
<circle cx="610.3" cy="256.09" r="3.12" stroke="#e45756"/>
<circle cx="608.52" cy="252.54" r="3.12" stroke="#e45756"/>
<circle cx="637.59" cy="259.05" r="3.12" stroke="#e45756"/>
<circle cx="618.01" cy="248.99" r="3.12" stroke="#e45756"/>
<circle cx="636.99" cy="256.69" r="3.12" stroke="#e45756"/>
<circle cx="637.59" cy="264.97" r="3.12" stroke="#e45756"/>
<circle cx="587.76" cy="243.07" r="3.12" stroke="#e45756"/>
<circle cx="642.92" cy="247.22" r="3.12" stroke="#e45756"/>
<circle cx="482.17" cy="167.92" r="3.12" stroke="#4c78a8"/>
<circle cx="480.39" cy="154.9" r="3.12" stroke="#f58518"/>
<circle cx="487.51" cy="145.43" r="3.12" stroke="#e45756"/>
<circle cx="501.15" cy="194.55" r="3.12" stroke="#e45756"/>
<circle cx="537.93" cy="206.38" r="3.12" stroke="#4c78a8"/>
<circle cx="636.99" cy="220.59" r="3.12" stroke="#e45756"/>
<circle cx="513.02" cy="195.73" r="3.12" stroke="#4c78a8"/>
<circle cx="583.61" cy="215.26" r="3.12" stroke="#e45756"/>
<circle cx="491.66" cy="154.3" r="3.12" stroke="#e45756"/>
<circle cx="491.66" cy="152.53" r="3.12" stroke="#e45756"/>
<circle cx="479.8" cy="168.51" r="3.12" stroke="#f58518"/>
<circle cx="483.36" cy="135.96" r="3.12" stroke="#4c78a8"/>
<circle cx="518.95" cy="188.63" r="3.12" stroke="#e45756"/>
<circle cx="532" cy="186.26" r="3.12" stroke="#e45756"/>
<circle cx="532" cy="198.1" r="3.12" stroke="#e45756"/>
<circle cx="518.95" cy="158.45" r="3.12" stroke="#e45756"/>
<circle cx="487.51" cy="111.1" r="3.12" stroke="#4c78a8"/>
<circle cx="482.17" cy="131.22" r="3.12" stroke="#f58518"/>
<circle cx="487.51" cy="166.73" r="3.12" stroke="#e45756"/>
<circle cx="480.39" cy="136.55" r="3.12" stroke="#f58518"/>
<circle cx="518.95" cy="191" r="3.12" stroke="#e45756"/>
<circle cx="512.43" cy="200.46" r="3.12" stroke="#e45756"/>
<circle cx="518.95" cy="212.89" r="3.12" stroke="#e45756"/>
<circle cx="562.85" cy="243.67" r="3.12" stroke="#e45756"/>
<circle cx="486.92" cy="153.71" r="3.12" stroke="#4c78a8"/>
<circle cx="508.87" cy="180.34" r="3.12" stroke="#f58518"/>
<circle cx="500.56" cy="171.47" r="3.12" stroke="#f58518"/>
<circle cx="499.97" cy="137.73" r="3.12" stroke="#f58518"/>
<circle cx="493.44" cy="166.14" r="3.12" stroke="#f58518"/>
<circle cx="480.39" cy="80.92" r="3.12" stroke="#f58518"/>
<circle cx="521.92" cy="191.59" r="3.12" stroke="#e45756"/>
<circle cx="479.8" cy="115.25" r="3.12" stroke="#f58518"/>
<circle cx="482.77" cy="94.53" r="3.12" stroke="#4c78a8"/>
<circle cx="482.77" cy="99.86" r="3.12" stroke="#4c78a8"/>
<circle cx="501.15" cy="141.28" r="3.12" stroke="#4c78a8"/>
<circle cx="515.98" cy="179.16" r="3.12" stroke="#4c78a8"/>
<circle cx="483.36" cy="92.76" r="3.12" stroke="#f58518"/>
<circle cx="479.8" cy="114.65" r="3.12" stroke="#4c78a8"/>
<circle cx="486.92" cy="156.67" r="3.12" stroke="#f58518"/>
<circle cx="482.17" cy="180.34" r="3.12" stroke="#4c78a8"/>
<circle cx="529.03" cy="163.18" r="3.12" stroke="#f58518"/>
<circle cx="470.9" cy="216.44" r="3.12" stroke="#f58518"/>
<circle cx="501.75" cy="149.57" r="3.12" stroke="#4c78a8"/>
<circle cx="512.43" cy="217.04" r="3.12" stroke="#e45756"/>
<circle cx="492.85" cy="164.96" r="3.12" stroke="#f58518"/>
<circle cx="509.46" cy="195.73" r="3.12" stroke="#e45756"/>
<circle cx="518.95" cy="199.28" r="3.12" stroke="#e45756"/>
<circle cx="521.92" cy="204.02" r="3.12" stroke="#e45756"/>
<circle cx="532" cy="217.63" r="3.12" stroke="#e45756"/>
<circle cx="509.46" cy="179.16" r="3.12" stroke="#e45756"/>
<circle cx="476.24" cy="125.31" r="3.12" stroke="#f58518"/>
<circle cx="480.39" cy="125.9" r="3.12" stroke="#e45756"/>
<circle cx="477.43" cy="148.98" r="3.12" stroke="#f58518"/>
<circle cx="486.92" cy="165.55" r="3.12" stroke="#f58518"/>
<circle cx="479.8" cy="137.73" r="3.12" stroke="#f58518"/>
<circle cx="482.17" cy="133.59" r="3.12" stroke="#f58518"/>
<circle cx="483.36" cy="154.9" r="3.12" stroke="#f58518"/>
<circle cx="491.66" cy="151.35" r="3.12" stroke="#e45756"/>
<circle cx="487.51" cy="153.12" r="3.12" stroke="#e45756"/>
<circle cx="487.51" cy="179.75" r="3.12" stroke="#e45756"/>
<circle cx="491.66" cy="161.41" r="3.12" stroke="#4c78a8"/>
<circle cx="488.7" cy="152.53" r="3.12" stroke="#4c78a8"/>
<circle cx="492.85" cy="157.26" r="3.12" stroke="#f58518"/>
<circle cx="493.44" cy="164.96" r="3.12" stroke="#f58518"/>
<circle cx="499.97" cy="162" r="3.12" stroke="#f58518"/>
<circle cx="500.56" cy="169.69" r="3.12" stroke="#f58518"/>
<circle cx="513.02" cy="190.4" r="3.12" stroke="#4c78a8"/>
<circle cx="515.39" cy="175.02" r="3.12" stroke="#4c78a8"/>
<circle cx="529.03" cy="206.38" r="3.12" stroke="#f58518"/>
<circle cx="515.98" cy="213.48" r="3.12" stroke="#f58518"/>
<circle cx="566.4" cy="224.14" r="3.12" stroke="#e45756"/>
<circle cx="636.99" cy="199.28" r="3.12" stroke="#e45756"/>
<circle cx="548.02" cy="237.16" r="3.12" stroke="#e45756"/>
<circle cx="562.85" cy="252.54" r="3.12" stroke="#e45756"/>
<circle cx="495.82" cy="191" r="3.12" stroke="#e45756"/>
<circle cx="495.82" cy="196.91" r="3.12" stroke="#e45756"/>
<circle cx="495.82" cy="155.49" r="3.12" stroke="#e45756"/>
<circle cx="495.82" cy="173.24" r="3.12" stroke="#e45756"/>
<circle cx="509.46" cy="185.08" r="3.12" stroke="#e45756"/>
<circle cx="518.95" cy="196.91" r="3.12" stroke="#e45756"/>
<circle cx="512.43" cy="214.67" r="3.12" stroke="#e45756"/>
<circle cx="518.95" cy="220.59" r="3.12" stroke="#e45756"/>
<circle cx="491.66" cy="143.65" r="3.12" stroke="#4c78a8"/>
<circle cx="483.36" cy="137.73" r="3.12" stroke="#f58518"/>
<circle cx="483.36" cy="173.24" r="3.12" stroke="#f58518"/>
<circle cx="491.66" cy="131.82" r="3.12" stroke="#e45756"/>
<circle cx="487.51" cy="143.65" r="3.12" stroke="#e45756"/>
<circle cx="500.56" cy="143.65" r="3.12" stroke="#f58518"/>
<circle cx="492.85" cy="143.65" r="3.12" stroke="#f58518"/>
<circle cx="493.44" cy="155.49" r="3.12" stroke="#f58518"/>
<circle cx="483.36" cy="131.82" r="3.12" stroke="#f58518"/>
<circle cx="483.36" cy="167.32" r="3.12" stroke="#f58518"/>
<circle cx="483.36" cy="131.82" r="3.12" stroke="#f58518"/>
<circle cx="536.75" cy="208.75" r="3.12" stroke="#e45756"/>
<circle cx="584.79" cy="131.82" r="3.12" stroke="#e45756"/>
<circle cx="521.92" cy="202.83" r="3.12" stroke="#e45756"/>
<circle cx="567" cy="226.5" r="3.12" stroke="#e45756"/>
<circle cx="514.8" cy="167.32" r="3.12" stroke="#f58518"/>
<circle cx="509.46" cy="143.65" r="3.12" stroke="#e45756"/>
<circle cx="518.95" cy="196.91" r="3.12" stroke="#e45756"/>
<circle cx="512.43" cy="196.91" r="3.12" stroke="#e45756"/>
<circle cx="486.92" cy="96.31" r="3.12" stroke="#4c78a8"/>
<circle cx="509.46" cy="167.32" r="3.12" stroke="#e45756"/>
<circle cx="500.56" cy="191" r="3.12" stroke="#e45756"/>
<circle cx="499.97" cy="173.24" r="3.12" stroke="#e45756"/>
</g>
<g stroke="#888" stroke-width="1" fill="none">
<line x1="429.93" y1="357.25" x2="726.52" y2="357.25"/>
<line x1="429.93" y1="61.35" x2="429.93" y2="357.25"/>
<line x1="429.93" y1="357.25" x2="429.93" y2="362.75"/>
<line x1="489.25" y1="357.25" x2="489.25" y2="362.75"/>
<line x1="548.57" y1="357.25" x2="548.57" y2="362.75"/>
<line x1="607.88" y1="357.25" x2="607.88" y2="362.75"/>
<line x1="667.2" y1="357.25" x2="667.2" y2="362.75"/>
<line x1="726.52" y1="357.25" x2="726.52" y2="362.75"/>
<line x1="424.43" y1="357.25" x2="429.93" y2="357.25"/>
<line x1="424.43" y1="298.07" x2="429.93" y2="298.07"/>
<line x1="424.43" y1="238.89" x2="429.93" y2="238.89"/>
<line x1="424.43" y1="179.71" x2="429.93" y2="179.71"/>
<line x1="424.43" y1="120.53" x2="429.93" y2="120.53"/>
<line x1="424.43" y1="61.35" x2="429.93" y2="61.35"/>
</g>
<g fill="#000" font-size="12.3">
<text x="429.83" y="375.25" text-anchor="start">0</text>
<text x="489.25" y="375.25" text-anchor="middle">100</text>
<text x="548.57" y="375.25" text-anchor="middle">200</text>
<text x="607.88" y="375.25" text-anchor="middle">300</text>
<text x="667.2" y="375.25" text-anchor="middle">400</text>
<text x="726.52" y="375.25" text-anchor="end">500</text>
<text x="421.53" y="360.75" text-anchor="end">0</text>
<text x="421.53" y="301.57" text-anchor="end">10</text>
<text x="421.53" y="242.39" text-anchor="end">20</text>
<text x="421.53" y="183.21" text-anchor="end">30</text>
<text x="421.53" y="124.03" text-anchor="end">40</text>
<text x="421.53" y="64.85" text-anchor="end">50</text>
</g>
<text x="536.65" y="393.6" font-size="13.3" fill="#000" stroke="#000" stroke-width="0.5" letter-spacing="0.26">Displacement</text>
<text transform="translate(386.7,262.3) rotate(-90)" x="0.25" y="0" font-size="13.3" fill="#000" stroke="#000" stroke-width="0.5" letter-spacing="0.13">Miles_per_Gallon</text>
<text x="63.3" y="52.2" font-size="15.3" fill="#000" stroke="#000" stroke-width="0.4" letter-spacing="0.6">Linked<tspan textLength="9" lengthAdjust="spacingAndGlyphs">-</tspan>Brush Scatterplot</text>
<text x="750.25" y="71.2" font-size="13.3" fill="#000" stroke="#000" stroke-width="0.5" letter-spacing="0.1">Origin</text>
<circle cx="755.4" cy="86.3" r="6.3" fill="none" stroke="#4c78a8" stroke-width="1.7" stroke-opacity="0.7"/>
<text x="771" y="89.9" font-size="12" fill="#000">Europe</text>
<circle cx="755.4" cy="103.5" r="6.3" fill="none" stroke="#f58518" stroke-width="1.7" stroke-opacity="0.7"/>
<text x="771" y="107.1" font-size="12" fill="#000">Japan</text>
<circle cx="755.4" cy="120.7" r="6.3" fill="none" stroke="#e45756" stroke-width="1.7" stroke-opacity="0.7"/>
<text x="771" y="124.3" font-size="12" fill="#000">USA</text>
</g>
</svg>
</body></html>
